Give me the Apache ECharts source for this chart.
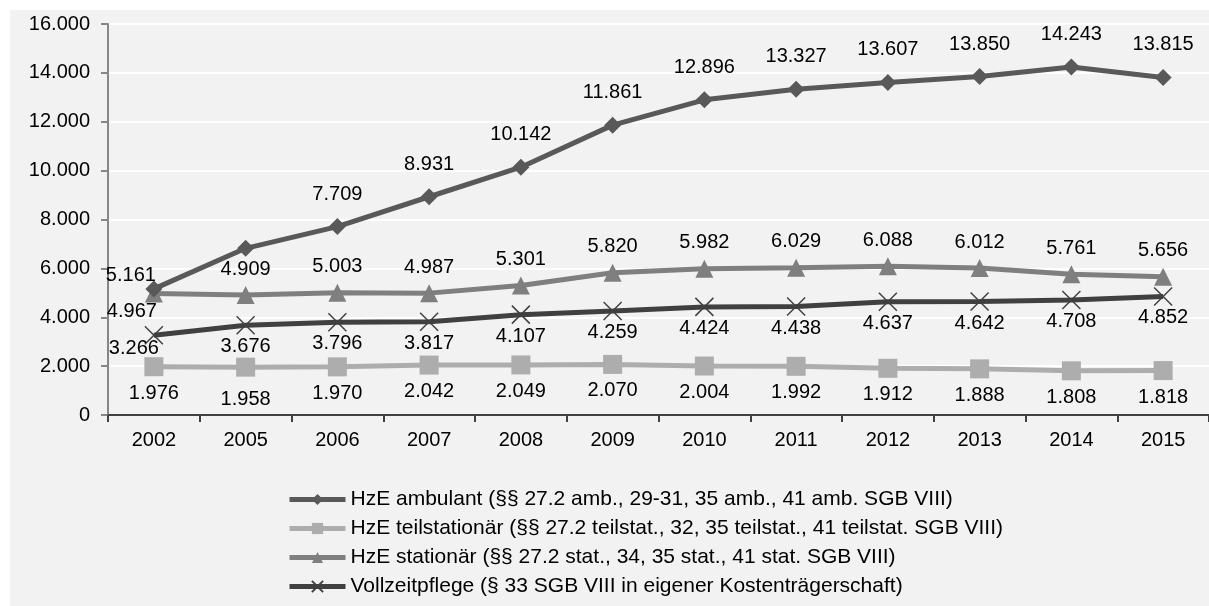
<!DOCTYPE html>
<html>
<head>
<meta charset="utf-8">
<script src="https://cdn.jsdelivr.net/npm/echarts@6/dist/echarts.min.js"></script>
<style>
html,body{margin:0;padding:0;background:#ffffff;}
#bg{position:absolute;left:10px;top:10px;width:1199px;height:596px;background:#f2f2f2;}
#chart{position:absolute;left:0;top:0;width:1209px;height:606px;}
</style>
</head>
<body>
<div id="bg"></div>
<div id="chart"></div>
<script>
const years = ['2002','2005','2006','2007','2008','2009','2010','2011','2012','2013','2014','2015'];
const ambulant = [5161, 6820, 7709, 8931, 10142, 11861, 12896, 13327, 13607, 13850, 14243, 13815];
const teilstationaer = [1976, 1958, 1970, 2042, 2049, 2070, 2004, 1992, 1912, 1888, 1808, 1818];
const stationaer = [4967, 4909, 5003, 4987, 5301, 5820, 5982, 6029, 6088, 6012, 5761, 5656];
const vollzeitpflege = [3266, 3676, 3796, 3817, 4107, 4259, 4424, 4438, 4637, 4642, 4708, 4852];
const seriesNames = [
  'HzE ambulant (§§ 27.2 amb., 29-31, 35 amb., 41 amb. SGB VIII)',
  'HzE teilstationär (§§ 27.2 teilstat., 32, 35 teilstat., 41 teilstat. SGB VIII)',
  'HzE stationär (§§ 27.2 stat., 34, 35 stat., 41 stat. SGB VIII)',
  'Vollzeitpflege (§ 33 SGB VIII in eigener Kostenträgerschaft)'
];
const yTicks = [0, 2000, 4000, 6000, 8000, 10000, 12000, 14000, 16000];

function fmt(v){
  const s = String(Math.round(v));
  return s.replace(/\B(?=(\d{3})+(?!\d))/g, '.');
}
const FONT = "'Liberation Sans', Arial, sans-serif";

const chart = echarts.init(document.getElementById('chart'));

function mkData(arr, overrides){
  return arr.map((v,i)=> overrides && overrides[i] ? {value:v, label: overrides[i]} : v);
}

const labelBase = {show:true, color:'#000', fontSize:20, fontFamily:FONT, formatter: p => fmt(p.value)};

chart.setOption({
  animation:false,
  textStyle:{fontFamily:FONT},
  grid:{left:108, top:24, right:-10, height:391},
  legend:{
    orient:'vertical', left:287, top:489, padding:0, height:140,
    itemWidth:56, itemHeight:14, itemGap:8,
    lineStyle:{width:5},
    textStyle:{fontSize:21, color:'#000', fontFamily:FONT},
    data: seriesNames
  },
  xAxis:{
    type:'category', data: years, boundaryGap:true,
    axisLine:{lineStyle:{color:'#404040', width:2}},
    axisTick:{show:true, length:7, lineStyle:{color:'#404040', width:2}},
    axisLabel:{fontSize:20, color:'#000', fontFamily:FONT, margin:15}
  },
  yAxis:{
    type:'value', min:yTicks[0], max:yTicks[yTicks.length-1], interval:yTicks[1]-yTicks[0],
    axisLine:{show:true, lineStyle:{color:'#868686', width:2}},
    axisTick:{show:true, length:7, lineStyle:{color:'#868686', width:2}},
    splitLine:{lineStyle:{color:'#ffffff', width:2}},
    axisLabel:{fontSize:20, color:'#000', fontFamily:FONT, margin:18, formatter: v => fmt(v)}
  },
  series:[
    {
      name: seriesNames[0], type:'line', data: mkData(ambulant, {0:{offset:[-23,19]}, 1:{show:false}}),
      symbol:'diamond', symbolSize:17,
      lineStyle:{color:'#595959', width:5}, itemStyle:{color:'#595959'},
      label:Object.assign({}, labelBase, {position:'top', distance:14}), z:3
    },
    {
      name: seriesNames[1], type:'line', data: mkData(teilstationaer, {1:{offset:[0,6]}}),
      symbol:'rect', symbolSize:19,
      lineStyle:{color:'#adadad', width:5}, itemStyle:{color:'#adadad'},
      label:Object.assign({}, labelBase, {position:'bottom', distance:7}), z:2
    },
    {
      name: seriesNames[2], type:'line', data: mkData(stationaer, {0:{position:'bottom', distance:0, offset:[-22,-1]}}),
      symbol:'triangle', symbolSize:18,
      lineStyle:{color:'#7f7f7f', width:5}, itemStyle:{color:'#7f7f7f'},
      label:Object.assign({}, labelBase, {position:'top', distance:7}), z:2
    },
    {
      name: seriesNames[3], type:'line', data: mkData(vollzeitpflege, {0:{offset:[-20,-8]}}),
      symbol:'path://M0,0L10,10M10,0L0,10', symbolSize:18,
      lineStyle:{color:'#404040', width:5}, itemStyle:{color:'none', borderColor:'#404040', borderWidth:1.5},
      label:Object.assign({}, labelBase, {position:'bottom', distance:0}), z:4
    }
  ]
});
</script>
</body>
</html>
